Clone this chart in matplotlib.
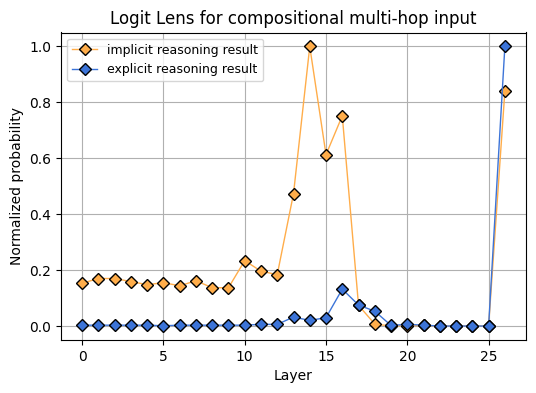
import matplotlib
matplotlib.use('Agg')
import matplotlib.pyplot as plt
import numpy as np

layers = np.arange(27)

implicit = [0.153, 0.170, 0.170, 0.159, 0.148, 0.155, 0.144, 0.162, 0.137, 0.137,
            0.234, 0.196, 0.184, 0.473, 1.000, 0.613, 0.752, 0.074, 0.007, 0.000,
            0.001, 0.002, 0.000, 0.000, 0.000, 0.000, 0.840]
explicit = [0.003, 0.003, 0.003, 0.003, 0.003, 0.001, 0.003, 0.003, 0.003, 0.003,
            0.003, 0.006, 0.006, 0.032, 0.020, 0.030, 0.132, 0.075, 0.053, 0.002,
            0.006, 0.003, 0.000, 0.000, 0.000, 0.000, 1.000]

orange = '#FFAD4A'
blue = '#3C74D8'

f = plt.figure(figsize=(5.36, 3.93), dpi=100)
ax = f.add_axes([61/536, 1-340/393, (526-61)/536, (340-32.5)/393])

ax.plot(layers, implicit, marker='D', color=orange, markerfacecolor=orange,
        markeredgecolor='k', markersize=6.5, linewidth=1, label='implicit reasoning result')
ax.plot(layers, explicit, marker='D', color=blue, markerfacecolor=blue,
        markeredgecolor='k', markersize=6.5, linewidth=1, label='explicit reasoning result')

ax.set_title('Logit Lens for compositional multi-hop input')
ax.set_xlabel('Layer')
ax.set_ylabel('Normalized probability')
ax.grid(True)
ax.legend(loc='upper left', fontsize=9)

plt.savefig('out.png', dpi=100)
